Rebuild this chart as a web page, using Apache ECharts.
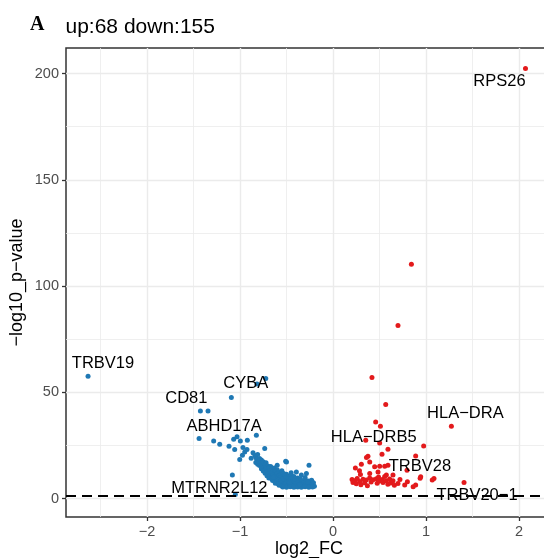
<!DOCTYPE html>
<html>
<head>
<meta charset="utf-8">
<script src="https://cdn.jsdelivr.net/npm/echarts@6/dist/echarts.min.js"></script>
<style>
  html, body { margin: 0; padding: 0; background: #ffffff; }
  #chart { width: 544px; height: 558px; }
</style>
</head>
<body>
<div id="chart"></div>
<script>
// down-regulated genes: [log2_FC, -log10_p-value, label]
var downGenes = [
  [-2.634, 57.6, 'TRBV19'], [-0.723, 56.5, 'CYBA'], [-0.817, 53.9], [-1.093, 47.6],
  [-1.426, 41.2, 'CD81'], [-1.344, 41.2], [-1.440, 28.3, 'ABHD17A'], [-1.283, 27.2],
  [-1.218, 25.6], [-1.118, 24.7], [-1.068, 28.0], [-1.032, 29.1], [-0.996, 27.2],
  [-0.921, 27.5], [-0.824, 29.9], [-1.057, 23.1], [-0.968, 24.1], [-0.949, 22.0],
  [-0.925, 23.1], [-1.003, 18.4], [-0.974, 20.5], [-0.734, 23.6], [-1.082, 11.1],
  [-0.509, 17.6], [-0.258, 15.8], [-0.286, 11.9], [-0.232, 7.9], [-1.050, 2.0, 'MTRNR2L12'],
  [-0.84, 20.3], [-0.83, 19.5], [-0.81, 20.8],
  [-0.82, 18.6], [-0.79, 18.9], [-0.77, 18.2], [-0.80, 17.7],
  [-0.83, 17.0], [-0.78, 16.8], [-0.75, 17.4], [-0.72, 16.9], [-0.81, 16.2],
  [-0.79, 15.6], [-0.76, 15.3], [-0.73, 15.9], [-0.70, 15.4], [-0.67, 15.1], [-0.74, 14.6],
  [-0.77, 14.1], [-0.72, 13.9], [-0.69, 14.3], [-0.66, 13.8], [-0.63, 14.4], [-0.60, 13.6],
  [-0.75, 13.0], [-0.71, 12.7], [-0.68, 13.2], [-0.65, 12.6], [-0.62, 12.9], [-0.58, 12.4], [-0.55, 13.1],
  [-0.73, 12.0], [-0.70, 11.6], [-0.66, 11.9], [-0.63, 11.4], [-0.60, 11.8], [-0.57, 11.3], [-0.53, 11.9], [-0.50, 11.5],
  [-0.71, 10.8], [-0.68, 10.5], [-0.65, 10.9], [-0.61, 10.4], [-0.58, 10.7], [-0.55, 10.2], [-0.52, 10.8],
  [-0.48, 10.4], [-0.45, 10.9], [-0.42, 10.5],
  [-0.69, 9.8], [-0.66, 9.4], [-0.63, 9.9], [-0.60, 9.3], [-0.57, 9.7], [-0.54, 9.2], [-0.51, 9.6],
  [-0.48, 9.1], [-0.45, 9.5], [-0.41, 9.2], [-0.38, 9.7], [-0.35, 9.3],
  [-0.65, 8.6], [-0.62, 8.2], [-0.59, 8.7], [-0.56, 8.1], [-0.53, 8.5], [-0.50, 8.0], [-0.47, 8.4],
  [-0.44, 8.0], [-0.41, 8.5], [-0.38, 8.1], [-0.35, 8.6], [-0.32, 8.2], [-0.29, 8.6], [-0.26, 8.3], [-0.23, 8.7],
  [-0.62, 7.3], [-0.59, 7.0], [-0.56, 7.4], [-0.53, 6.9], [-0.50, 7.3], [-0.47, 6.8], [-0.44, 7.2],
  [-0.41, 6.9], [-0.38, 7.4], [-0.35, 6.9], [-0.32, 7.3], [-0.29, 6.8], [-0.26, 7.2], [-0.23, 6.9], [-0.21, 7.5],
  [-0.58, 6.3], [-0.55, 6.0], [-0.52, 6.4], [-0.49, 6.0], [-0.46, 6.3], [-0.43, 5.9], [-0.40, 6.2],
  [-0.37, 5.9], [-0.34, 6.3], [-0.31, 5.9], [-0.28, 6.2], [-0.25, 5.8], [-0.22, 6.1], [-0.20, 5.9],
  [-0.54, 5.5], [-0.50, 5.4], [-0.46, 5.6], [-0.42, 5.4], [-0.38, 5.5], [-0.34, 5.4], [-0.30, 5.6],
  [-0.26, 5.4], [-0.22, 5.5],
  [-0.50, 17.3], [-0.394, 12.6], [-0.34, 11.1], [-0.30, 10.0], [-0.45, 12.2], [-0.60, 15.8],
  [-0.86, 21.6], [-0.88, 19.0], [-0.64, 10.1], [-0.47, 7.7], [-0.36, 6.6], [-0.27, 7.9]
];

// up-regulated genes
var upGenes = [
  [2.070, 202.3, 'RPS26'], [0.843, 110.3], [0.699, 81.5], [0.419, 57.0], [0.567, 44.3],
  [0.459, 36.1], [0.510, 34.1], [1.273, 34.1, 'HLA\u2212DRA'], [0.352, 27.5, 'HLA\u2212DRB5'],
  [0.502, 26.2], [0.975, 24.8], [0.591, 23.3], [0.527, 20.9], [0.376, 20.0], [0.889, 20.1],
  [0.395, 17.3], [0.305, 16.2], [0.241, 14.5], [0.448, 15.0], [0.502, 15.3], [0.556, 15.3],
  [0.591, 15.8, 'TRBV28'], [0.796, 13.4], [0.295, 11.4], [0.395, 11.9], [0.484, 12.6],
  [0.574, 11.1], [0.645, 11.1], [0.943, 10.3], [1.086, 9.5], [1.409, 7.6, 'TRBV20\u22121'],
  [0.205, 9.0], [0.215, 7.6], [0.233, 8.4], [0.251, 7.0], [0.26, 9.5], [0.287, 8.1], [0.30, 6.6],
  [0.323, 9.2], [0.34, 7.5], [0.358, 8.8], [0.37, 6.1], [0.394, 9.7], [0.41, 7.9], [0.43, 8.9],
  [0.466, 9.4], [0.475, 7.3], [0.49, 10.2], [0.502, 8.3], [0.53, 9.0], [0.538, 7.6], [0.556, 10.5],
  [0.574, 8.5], [0.59, 6.8], [0.609, 9.3], [0.62, 7.4], [0.645, 8.4], [0.66, 6.3], [0.699, 7.2],
  [0.72, 9.0], [0.771, 6.4], [0.80, 8.0], [0.862, 5.6], [0.889, 6.5], [0.937, 9.6], [1.067, 8.8],
  [0.285, 13.2], [0.36, 19.4]
];

var xTicks = [-2, -1, 0, 1, 2];
var yTicks = [0, 50, 100, 150, 200];
var xMinorTicks = [-2.5, -1.5, -0.5, 0.5, 1.5];
var yMinorTicks = [25, 75, 125, 175];
var pCutoff = 1.3;   // -log10(0.05)

// where each gene label sits relative to its point (px)
var labelOffset = {
  'TRBV19': [15, -13], 'CYBA': [-20, 5], 'CD81': [-14, -12.5], 'ABHD17A': [25, -12],
  'MTRNR2L12': [-16, -6], 'RPS26': [-26, 13], 'HLA\u2212DRA': [14, -13],
  'HLA\u2212DRB5': [8, -3], 'TRBV28': [32, 1], 'TRBV20\u22121': [13, 13]
};

var font = 'Liberation Sans, Arial, sans-serif';

function toItems(arr) {
  return arr.map(function (p) {
    if (!p[2]) return [p[0], p[1]];
    return {
      value: [p[0], p[1]],
      name: p[2],
      label: {
        show: true,
        position: ['50%', '50%'],
        align: 'center',
        verticalAlign: 'middle',
        offset: labelOffset[p[2]],
        formatter: p[2],
        color: '#000',
        fontSize: 16.5,
        fontFamily: font
      }
    };
  });
}

function minusFmt(v) {
  return v < 0 ? '\u2212' + Math.abs(v) : String(v);
}

var chart = echarts.init(document.getElementById('chart'), null, { renderer: 'canvas' });

var option = {
  animation: false,
  backgroundColor: '#ffffff',
  graphic: [
    { type: 'text', x: 30, y: 25, style: { text: 'A', font: 'bold 20px "Liberation Serif", serif', fill: '#000', verticalAlign: 'middle' } },
    { type: 'text', x: 65.5, y: 27, style: { text: 'up:68 down:155', font: '21px "Liberation Sans", Arial, sans-serif', fill: '#000', verticalAlign: 'middle' } }
  ],
  grid: {
    left: 66, top: 48, width: 486, height: 469,
    outerBoundsMode: 'none', containLabel: false,
    show: true, borderColor: '#333333', borderWidth: 1.5, backgroundColor: '#ffffff'
  },
  xAxis: {
    type: 'value', min: -2.871, max: 2.355,
    axisLine: { show: false, onZero: false },
    axisTick: { customValues: xTicks, length: 4, lineStyle: { color: '#333333', width: 1.3 } },
    axisLabel: { customValues: xTicks, formatter: minusFmt, color: '#4d4d4d', fontSize: 14.5, fontFamily: font, margin: 7 },
    splitLine: { show: true, lineStyle: { color: '#ebebeb', width: 1.4 } },
    name: 'log2_FC', nameLocation: 'middle', nameGap: 23, nameMoveOverlap: false,
    nameTextStyle: { color: '#000', fontSize: 18, fontFamily: font, verticalAlign: 'top' }
  },
  yAxis: {
    type: 'value', min: -8.6, max: 212,
    axisLine: { show: false, onZero: false },
    axisTick: { customValues: yTicks, length: 4, lineStyle: { color: '#333333', width: 1.3 } },
    axisLabel: { customValues: yTicks, color: '#4d4d4d', fontSize: 14.5, fontFamily: font, margin: 7 },
    splitLine: { show: true, lineStyle: { color: '#ebebeb', width: 1.4 } },
    name: '\u2212log10_p\u2212value', nameLocation: 'middle', nameGap: 40, nameRotate: 90, nameMoveOverlap: false,
    nameTextStyle: { color: '#000', fontSize: 18, fontFamily: font }
  },
  series: [
    {
      type: 'scatter', data: [], silent: true, z: 1,
      markLine: {
        silent: true, symbol: 'none', label: { show: false }, z: 1,
        lineStyle: { color: '#ebebeb', width: 0.8, type: 'solid' },
        data: xMinorTicks.map(function (v) { return { xAxis: v }; })
          .concat(yMinorTicks.map(function (v) { return { yAxis: v }; }))
      }
    },
    {
      name: 'down', type: 'scatter', z: 3, symbolSize: 5,
      itemStyle: { color: '#1F78B4', opacity: 1 },
      data: toItems(downGenes)
    },
    {
      name: 'up', type: 'scatter', z: 3, symbolSize: 5,
      itemStyle: { color: '#E31A1C', opacity: 1 },
      data: toItems(upGenes)
    },
    {
      type: 'scatter', data: [], silent: true, z: 4,
      markLine: {
        silent: true, symbol: 'none', label: { show: false }, z: 4,
        lineStyle: { color: '#000000', width: 1.8, type: [10, 6] },
        data: [{ yAxis: pCutoff }]
      }
    }
  ]
};

chart.setOption(option);
</script>
</body>
</html>
